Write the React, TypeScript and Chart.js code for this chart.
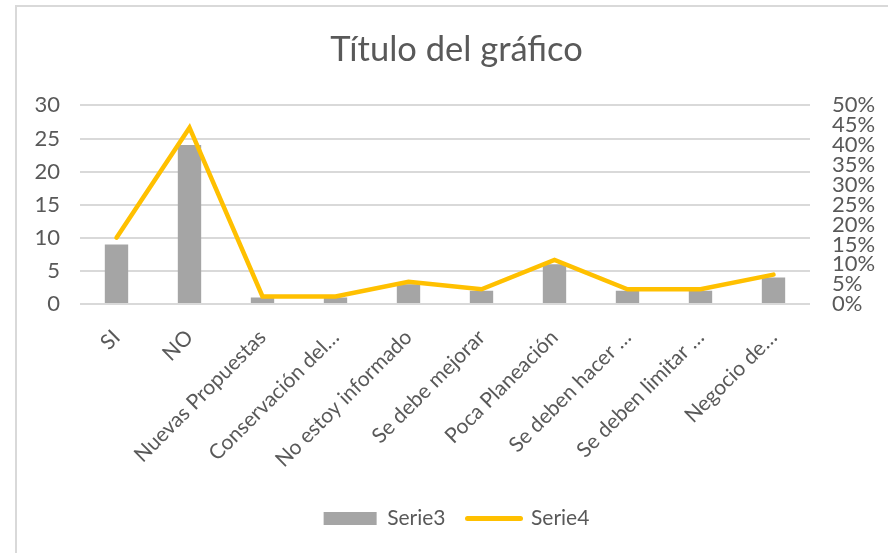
import React, { useEffect, useRef } from "react";
import { Chart, registerables } from "chart.js";

Chart.register(...registerables);

const categories = [
  "SI",
  "NO",
  "Nuevas Propuestas",
  "Conservación del…",
  "No estoy informado",
  "Se debe mejorar",
  "Poca Planeación",
  "Se deben hacer …",
  "Se deben limitar …",
  "Negocio de…",
];
const serie3 = [9, 24, 1, 1, 3, 2, 6, 2, 2, 4];
const serie4 = [0.167, 0.444, 0.019, 0.019, 0.056, 0.037, 0.111, 0.037, 0.037, 0.074];
const leftTicks = [0, 5, 10, 15, 20, 25, 30];
const rightTicks = [0, 0.05, 0.1, 0.15, 0.2, 0.25, 0.3, 0.35, 0.4, 0.45, 0.5];

const FONT = "Lato, 'Open Sans', sans-serif";
const TEXT = "#595959";
const GRID = "#d9d9d9";
const BAR = "#a5a5a5";
const LINE = "#ffc000";

export default function App() {
  const ref = useRef<HTMLCanvasElement | null>(null);

  useEffect(() => {
    if (!ref.current) return;
    const chart = new Chart(ref.current, {
      type: "bar",
      data: {
        labels: categories,
        datasets: [
          {
            type: "bar",
            label: "Serie3",
            data: serie3,
            backgroundColor: BAR,
            borderWidth: 0,
            barPercentage: 0.32,
            categoryPercentage: 1,
            yAxisID: "y",
            order: 2,
          },
          {
            type: "line",
            label: "Serie4",
            data: serie4,
            borderColor: LINE,
            backgroundColor: LINE,
            borderWidth: 4.5,
            pointRadius: 0,
            borderCapStyle: "round",
            tension: 0,
            yAxisID: "y1",
            order: 1,
          },
        ],
      },
      options: {
        responsive: false,
        animation: false,
        layout: { padding: { left: 25, right: 0, top: 0, bottom: 14 } },
        plugins: {
          title: {
            display: true,
            text: "Título del gráfico",
            color: TEXT,
            font: { family: FONT, size: 34.5, weight: "normal" },
            padding: { top: 29, bottom: 35 },
          },
          tooltip: { enabled: false },
          legend: {
            position: "bottom",
            labels: {
              usePointStyle: true,
              pointStyleWidth: 53,
              boxHeight: 13,
              padding: 22,
              color: TEXT,
              font: { family: FONT, size: 21 },
              generateLabels: () => [
                {
                  text: "Serie3",
                  fillStyle: BAR,
                  strokeStyle: BAR,
                  lineWidth: 0,
                  pointStyle: "rect",
                  hidden: false,
                  datasetIndex: 0,
                  fontColor: TEXT,
                },
                {
                  text: "Serie4",
                  fillStyle: LINE,
                  strokeStyle: LINE,
                  lineWidth: 5,
                  lineCap: "round",
                  pointStyle: "line",
                  hidden: false,
                  datasetIndex: 1,
                  fontColor: TEXT,
                },
              ],
            },
          },
        },
        scales: {
          x: {
            grid: { display: false, drawTicks: false },
            border: { display: false },
            ticks: {
              color: TEXT,
              font: { family: FONT, size: 21 },
              maxRotation: 45,
              minRotation: 45,
              autoSkip: false,
              padding: 21,
            },
            afterFit: (s: any) => {
              s.height = 182;
            },
          },
          y: {
            position: "left",
            min: 0,
            max: 30,
            afterBuildTicks: (s: any) => {
              s.ticks = leftTicks.map((v) => ({ value: v }));
            },
            grid: { color: GRID, lineWidth: 2, drawTicks: false },
            border: { display: false },
            ticks: {
              color: TEXT,
              font: { family: FONT, size: 22 },
              padding: 20,
              autoSkip: false,
            },
            afterFit: (s: any) => {
              s.width = 55;
            },
          },
          y1: {
            position: "right",
            min: 0,
            max: 0.5,
            afterBuildTicks: (s: any) => {
              s.ticks = rightTicks.map((v) => ({ value: v }));
            },
            grid: { display: false, drawTicks: false },
            border: { display: false },
            ticks: {
              color: TEXT,
              font: { family: FONT, size: 22 },
              padding: 22,
              autoSkip: false,
              callback: (v: any) => Math.round(Number(v) * 100) + "%",
            },
            afterFit: (s: any) => {
              s.width = 78;
            },
          },
        },
      },
    });
    return () => chart.destroy();
  }, []);

  return (
    <div style={{ position: "absolute", left: 0, top: 0, width: 888, height: 553, overflow: "hidden", background: "#fff" }}>
      <div
        style={{
          position: "absolute",
          left: 15,
          top: 5,
          width: 900,
          height: 600,
          borderLeft: "2px solid #d9d9d9",
          borderTop: "2px solid #d9d9d9",
        }}
      />
      <canvas ref={ref} width={888} height={553} style={{ position: "absolute", left: 0, top: 0, display: "block" }} />
    </div>
  );
}
